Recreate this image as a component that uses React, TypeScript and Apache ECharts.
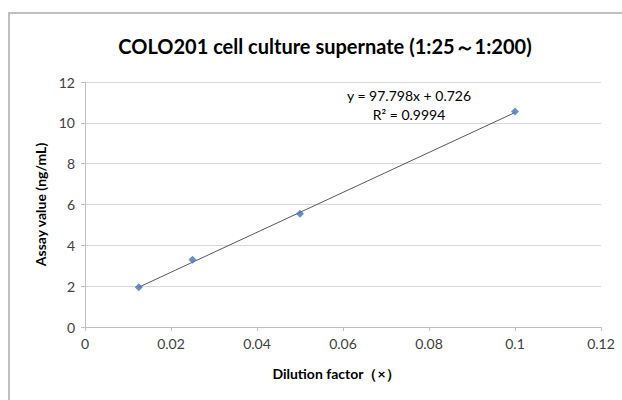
import React, { useEffect, useRef } from "react";
import * as echarts from "echarts";

const dilution = [0.0125, 0.025, 0.05, 0.1];
const assay = [1.95, 3.3, 5.55, 10.55];
const slope = 97.798;
const intercept = 0.726;
const equationText = "y = 97.798x + 0.726";
const r2Text = "R² = 0.9994";
const titleText = "COLO201 cell culture supernate (1:25～1:200)";

export default function App() {
  const ref = useRef<HTMLDivElement>(null);
  useEffect(() => {
    document.body.style.margin = "0";
    const chart = echarts.init(ref.current!, undefined, { renderer: "svg" });
    const xMin = dilution[0];
    const xMax = dilution[dilution.length - 1];
    const font = "Lato, 'Open Sans', sans-serif";
    chart.setOption({
      animation: false,
      backgroundColor: "#ffffff",
      textStyle: { fontFamily: font },
      title: {
        text: titleText,
        left: 320,
        textAlign: "center",
        top: 31,
        textStyle: { fontSize: 20, fontWeight: "bold", color: "#000", fontFamily: font },
      },
      grid: { left: 85, right: 21, top: 82, bottom: 73 },
      xAxis: {
        type: "value",
        min: 0,
        max: 0.12,
        interval: 0.02,
        name: "Dilution factor（×）",
        nameLocation: "middle",
        nameGap: 39,
        nameTextStyle: { fontSize: 14, fontWeight: "bold", color: "#000", padding: [0, 14, 0, 0] },
        axisLine: { show: true, lineStyle: { color: "#bfbfbf" } },
        axisTick: { show: true, length: 4, lineStyle: { color: "#bfbfbf" } },
        axisLabel: { fontSize: 14, color: "#404040", margin: 9 },
        splitLine: { show: false },
      },
      yAxis: {
        type: "value",
        min: 0,
        max: 12,
        interval: 2,
        name: "Assay value (ng/mL)",
        nameLocation: "middle",
        nameGap: 35,
        nameTextStyle: { fontSize: 14, fontWeight: "bold", color: "#000" },
        axisLine: { show: true, lineStyle: { color: "#bfbfbf" } },
        axisTick: { show: true, length: 4, lineStyle: { color: "#bfbfbf" } },
        axisLabel: { fontSize: 14, color: "#404040", margin: 10 },
        splitLine: { show: true, lineStyle: { color: "#d9d9d9" } },
      },
      series: [
        {
          type: "line",
          data: [
            [xMin, slope * xMin + intercept],
            [xMax, slope * xMax + intercept],
          ],
          showSymbol: false,
          symbol: "none",
          lineStyle: { color: "#595959", width: 1 },
          z: 2,
        },
        {
          type: "scatter",
          data: dilution.map((d, i) => [d, assay[i]]),
          symbol: "diamond",
          symbolSize: 8,
          itemStyle: { color: "#4472c4" },
          z: 3,
        },
      ],
      graphic: [
        {
          type: "rect",
          shape: { x: 9, y: 13, width: 640, height: 420 },
          style: { fill: "none", stroke: "#bfbfbf", lineWidth: 2 },
          silent: true,
        },
        {
          type: "text",
          x: 409,
          y: 95,
          style: { text: equationText, fontSize: 14, fill: "#000", textAlign: "center", textVerticalAlign: "middle", fontFamily: font },
        },
        {
          type: "text",
          x: 409,
          y: 114,
          style: { text: r2Text, fontSize: 14, fill: "#000", textAlign: "center", textVerticalAlign: "middle", fontFamily: font },
        },
      ],
    });
    return () => chart.dispose();
  }, []);
  return <div ref={ref} style={{ width: 622, height: 400 }} />;
}
